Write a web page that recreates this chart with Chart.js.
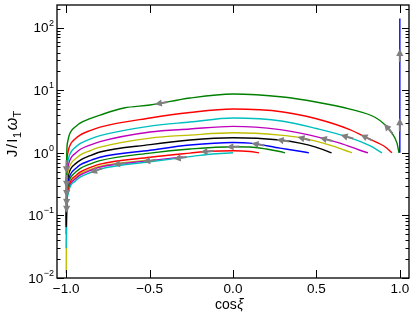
<!DOCTYPE html>
<html lang="en">
<head>
<meta charset="UTF-8" />
<title>J / I1 omega_T against cos xi</title>
<script src="https://cdn.jsdelivr.net/npm/chart.js"></script>
<style>
  html, body { margin: 0; padding: 0; background: #fff; }
  canvas { display: block; }
</style>
</head>
<body>
<canvas id="chart" width="416" height="318"></canvas>
<script>
// values: x = cos(xi), J in units of I1*omega_T
// curves go from their start near J = 1 towards cos(xi) = -1

// vertical track at cos(xi) = 1
const xBlue0 = [1.0, 1.0];
const jBlue0 = [1.0, 140];

const xGreen1 = [-1.0, -0.996, -0.99, -0.984, -0.978, -0.966, -0.947, -0.917, -0.857, -0.797, -0.653, -0.497, -0.258, 0.0, 0.3, 0.497, 0.701, 0.851, 0.911, 0.953, 0.983, 0.995];
const jGreen1 = [0.35, 1.1, 1.54, 1.82, 2.03, 2.31, 2.58, 2.99, 3.53, 4.01, 5.2, 5.8, 7.5, 8.7, 7.8, 6.5, 5.0, 3.7, 2.8, 2.07, 1.43, 1.0];

const xRed1 = [-1.0, -0.996, -0.99, -0.984, -0.978, -0.966, -0.947, -0.917, -0.857, -0.797, -0.497, -0.258, 0.0, 0.3, 0.5, 0.7, 0.82, 0.911, 0.953];
const jRed1 = [0.25, 0.71, 0.99, 1.17, 1.30, 1.48, 1.66, 1.92, 2.27, 2.58, 3.6, 4.4, 5.0, 4.5, 3.5, 2.35, 1.65, 1.25, 1.0];

const xCyan1 = [-1.0, -0.996, -0.99, -0.984, -0.978, -0.966, -0.947, -0.917, -0.857, -0.797, -0.497, -0.258, 0.0, 0.3, 0.5, 0.7, 0.82, 0.893];
const jCyan1 = [0.18, 0.52, 0.72, 0.85, 0.95, 1.08, 1.21, 1.40, 1.66, 1.88, 2.67, 3.1, 3.6, 3.2, 2.45, 1.75, 1.3, 1.0];

const xMagenta1 = [-1.0, -0.996, -0.99, -0.984, -0.978, -0.966, -0.947, -0.917, -0.857, -0.797, -0.497, -0.258, 0.0, 0.282, 0.461, 0.641, 0.761, 0.809];
const jMagenta1 = [0.15, 0.42, 0.58, 0.68, 0.76, 0.87, 0.97, 1.13, 1.33, 1.51, 2.15, 2.4, 2.65, 2.35, 1.92, 1.43, 1.1, 1.0];

const xYellow1 = [-1.0, -0.996, -0.99, -0.984, -0.978, -0.966, -0.947, -0.917, -0.857, -0.797, -0.497, -0.258, 0.0, 0.282, 0.401, 0.581, 0.671, 0.713];
const jYellow1 = [0.12, 0.34, 0.47, 0.56, 0.62, 0.71, 0.79, 0.92, 1.08, 1.23, 1.72, 1.92, 2.09, 1.92, 1.75, 1.33, 1.1, 1.0];

const xBlack1 = [-1.0, -0.996, -0.99, -0.984, -0.978, -0.966, -0.947, -0.917, -0.857, -0.797, -0.497, -0.258, 0.0, 0.282, 0.401, 0.497, 0.591];
const jBlack1 = [0.065, 0.28, 0.39, 0.47, 0.52, 0.59, 0.66, 0.76, 0.90, 1.03, 1.35, 1.6, 1.74, 1.6, 1.43, 1.23, 1.0];

const xBlue2 = [-1.0, -0.996, -0.99, -0.984, -0.978, -0.966, -0.947, -0.917, -0.857, -0.797, -0.497, -0.258, 0.0, 0.102, 0.282, 0.401, 0.455];
const jBlue2 = [0.09, 0.235, 0.33, 0.39, 0.43, 0.49, 0.55, 0.64, 0.75, 0.85, 1.1, 1.33, 1.46, 1.43, 1.19, 1.06, 1.0];

const xGreen2 = [-1.0, -0.996, -0.99, -0.984, -0.978, -0.966, -0.947, -0.917, -0.857, -0.797, -0.497, -0.258, 0.0, 0.102, 0.2, 0.28, 0.312];
const jGreen2 = [0.08, 0.21, 0.29, 0.34, 0.38, 0.43, 0.48, 0.56, 0.66, 0.75, 0.99, 1.15, 1.25, 1.24, 1.15, 1.05, 1.0];

const xRed2 = [-1.0, -0.996, -0.99, -0.984, -0.978, -0.966, -0.947, -0.917, -0.857, -0.797, -0.497, -0.258, -0.138, 0.0, 0.102, 0.156];
const jRed2 = [0.07, 0.18, 0.25, 0.30, 0.33, 0.38, 0.42, 0.49, 0.58, 0.66, 0.85, 0.99, 1.06, 1.08, 1.05, 1.0];

const xCyan2 = [-1.0, -0.996, -0.99, -0.984, -0.978, -0.966, -0.947, -0.917, -0.857, -0.797, -0.497, -0.258, -0.138, 0.0];
const jCyan2 = [0.03, 0.15, 0.21, 0.25, 0.28, 0.32, 0.35, 0.41, 0.48, 0.55, 0.72, 0.87, 0.95, 1.0];

const xMagenta2 = [-1.0, -0.996, -0.99, -0.984, -0.978, -0.966, -0.947, -0.917, -0.857, -0.797, -0.497, -0.3];
const jMagenta2 = [0.05, 0.16, 0.23, 0.27, 0.30, 0.34, 0.38, 0.44, 0.52, 0.59, 0.75, 0.86];

const xYellow2 = [-1.0, -0.996, -0.99, -0.984, -0.978, -0.966, -0.947, -0.917, -0.857, -0.797, -0.5];
const jYellow2 = [0.012, 0.17, 0.235, 0.28, 0.31, 0.35, 0.39, 0.46, 0.54, 0.61, 0.77];

// gray arrows: [curve index, cos xi, J, direction along the data (-1 = towards cos xi = -1)]
const arrowAt = [
  [0, 1.0, 36, 1], [0, 1.0, 2.8, 1],
  [1, 0.93, 2.4, -1], [1, -0.43, 6.2, -1],
  [2, 0.80, 1.75, -1], [3, 0.683, 1.8, -1], [4, 0.557, 1.6, -1], [5, 0.425, 1.7, -1],
  [6, 0.30, 1.58, -1], [7, 0.15, 1.38, -1], [8, 0.0, 1.25, -1], [9, -0.156, 1.05, -1],
  [10, -0.317, 0.84, -1], [11, -0.50, 0.75, -1], [12, -0.68, 0.65, -1], [10, -0.82, 0.52, -1],
  [1, -0.998, 0.6, -1], [3, -0.998, 0.35, -1], [5, -0.998, 0.25, -1],
  [7, -0.998, 0.18, -1], [9, -0.998, 0.14, -1]
];

const xTicks = [-1.0, -0.5, 0.0, 0.5, 1.0];
const xTickLabels = ['\u22121.0', '\u22120.5', '0.0', '0.5', '1.0'];
const yTicks = [0.01, 0.1, 1, 10, 100];
const yTickExp = ['\u22122', '\u22121', '0', '1', '2'];

const curves = [
  [xBlue0, jBlue0, '#0000ff'],
  [xGreen1, jGreen1, '#008000'],
  [xRed1, jRed1, '#ff0000'],
  [xCyan1, jCyan1, '#00bfbf'],
  [xMagenta1, jMagenta1, '#bf00bf'],
  [xYellow1, jYellow1, '#bfbf00'],
  [xBlack1, jBlack1, '#000000'],
  [xBlue2, jBlue2, '#0000ff'],
  [xGreen2, jGreen2, '#008000'],
  [xRed2, jRed2, '#ff0000'],
  [xCyan2, jCyan2, '#00bfbf'],
  [xMagenta2, jMagenta2, '#bf00bf'],
  [xYellow2, jYellow2, '#bfbf00']
];

const FONT = '"Liberation Sans", Arial, sans-serif';

function drawArrow(ctx, tx, ty, ux, uy) {
  const L = 13, HL = 7, HW = 3.6;
  const bx = tx - ux * HL, by = ty - uy * HL;
  ctx.beginPath();
  ctx.moveTo(tx - ux * L, ty - uy * L);
  ctx.lineTo(bx, by);
  ctx.stroke();
  ctx.beginPath();
  ctx.moveTo(tx, ty);
  ctx.lineTo(bx - uy * HW, by + ux * HW);
  ctx.lineTo(bx + uy * HW, by - ux * HW);
  ctx.closePath();
  ctx.fill();
}

const decorations = {
  id: 'decorations',
  afterDatasetsDraw(chart) {
    const { ctx, scales: { x, y } } = chart;
    ctx.save();
    ctx.strokeStyle = '#808080';
    ctx.fillStyle = '#808080';
    ctx.lineWidth = 2;
    arrowAt.forEach(([ci, xv, jv, dir]) => {
      const pts = chart.getDatasetMeta(ci).data;
      const tx = x.getPixelForValue(xv), ty = y.getPixelForValue(jv);
      let best = null;
      for (let i = 0; i < pts.length - 1; i++) {
        const a = pts[i], b = pts[i + 1];
        const dx = b.x - a.x, dy = b.y - a.y;
        const len2 = dx * dx + dy * dy || 1;
        let t = ((tx - a.x) * dx + (ty - a.y) * dy) / len2;
        t = Math.max(0, Math.min(1, t));
        const px = a.x + t * dx, py = a.y + t * dy;
        const d = (px - tx) ** 2 + (py - ty) ** 2;
        if (!best || d < best.d) best = { d, px, py, dx, dy };
      }
      const n = Math.hypot(best.dx, best.dy) || 1;
      const ux = dir * best.dx / n, uy = dir * best.dy / n;
      drawArrow(ctx, best.px + ux * 6.5, best.py + uy * 6.5, ux, uy);
    });
    ctx.restore();
  },
  afterDraw(chart) {
    const { ctx, chartArea: a, scales: { x, y } } = chart;
    ctx.save();
    ctx.strokeStyle = '#000';
    ctx.fillStyle = '#000';
    ctx.lineWidth = 1;
    const seg = (x1, y1, x2, y2) => { ctx.beginPath(); ctx.moveTo(x1, y1); ctx.lineTo(x2, y2); ctx.stroke(); };

    // ticks on x, pointing inwards, top and bottom
    xTicks.forEach(v => {
      const px = Math.round(x.getPixelForValue(v)) + 0.5;
      seg(px, a.bottom, px, a.bottom - 8);
      seg(px, a.top, px, a.top + 8);
    });
    // log ticks on y, left and right
    for (let d = -3; d <= 2; d++) {
      for (let m = 1; m <= 9; m++) {
        const v = m * Math.pow(10, d);
        if (v < y.min || v > y.max) continue;
        const py = Math.round(y.getPixelForValue(v)) + 0.5;
        const len = m === 1 ? 7 : 3.5;
        seg(a.left, py, a.left + len, py);
        seg(a.right, py, a.right - len, py);
      }
    }
    // frame
    ctx.lineWidth = 1.3;
    ctx.strokeRect(a.left, a.top, a.right - a.left, a.bottom - a.top);

    // x tick labels
    ctx.font = '13.5px ' + FONT;
    ctx.textAlign = 'center';
    ctx.textBaseline = 'alphabetic';
    xTicks.forEach((v, i) => ctx.fillText(xTickLabels[i], x.getPixelForValue(v), 292.5));

    // y tick labels, 10 with a raised exponent
    ctx.textAlign = 'left';
    yTicks.forEach((v, i) => {
      const py = y.getPixelForValue(v);
      ctx.font = '9px ' + FONT;
      const we = ctx.measureText(yTickExp[i]).width;
      ctx.font = '13.5px ' + FONT;
      const wb = ctx.measureText('10').width;
      const x0 = 54 - we - wb - 0.5;
      ctx.fillText('10', x0, py + 4.8);
      ctx.font = '9px ' + FONT;
      ctx.fillText(yTickExp[i], x0 + wb + 0.5, py - 2);
    });

    // x axis title: cos xi
    ctx.font = '14px ' + FONT;
    const wc = ctx.measureText('cos').width;
    ctx.font = 'italic 14px ' + FONT;
    const wx = ctx.measureText('\u03be').width;
    const cx = (a.left + a.right) / 2 - (wc + wx) / 2 - 4;
    ctx.font = '14px ' + FONT;
    ctx.fillText('cos', cx, 309);
    ctx.font = 'italic 14px ' + FONT;
    ctx.fillText('\u03be', cx + wc + 0.5, 309);

    // y axis title: J / I_1 omega_T
    const parts = [
      ['J', '15px ' + FONT, 0, 1.5],
      ['/', '15px ' + FONT, 0, 1.5],
      ['I', '15px ' + FONT, 0, 0.5],
      ['1', '11px ' + FONT, 3.5, 1.5],
      ['\u03c9', 'italic 16px ' + FONT, 0, 0.5],
      ['T', '11px ' + FONT, 3.5, 0]
    ];
    let total = 0;
    parts.forEach(p => { ctx.font = p[1]; total += ctx.measureText(p[0]).width + p[3]; });
    ctx.translate(12, 134);
    ctx.rotate(-Math.PI / 2);
    let pos = -total / 2;
    parts.forEach(p => {
      ctx.font = p[1];
      ctx.fillText(p[0], pos, 5 + p[2]);
      pos += ctx.measureText(p[0]).width + p[3];
    });
    ctx.restore();
  }
};

new Chart(document.getElementById('chart').getContext('2d'), {
  type: 'line',
  data: {
    datasets: curves.map(([xs, js, color], i) => ({
      data: xs.map((v, k) => ({ x: v, y: js[k] })),
      borderColor: color,
      borderWidth: 1.4,
      pointRadius: 0,
      fill: false,
      cubicInterpolationMode: i === 0 ? 'default' : 'monotone',
      tension: 0
    }))
  },
  options: {
    responsive: false,
    animation: false,
    devicePixelRatio: 1,
    layout: { padding: { left: 57, top: 5, right: 7, bottom: 40 } },
    plugins: { legend: { display: false }, tooltip: { enabled: false } },
    scales: {
      x: { type: 'linear', min: -1.055, max: 1.055, display: false },
      y: { type: 'logarithmic', min: 0.01, max: 230, display: false }
    }
  },
  plugins: [decorations]
});
</script>
</body>
</html>
